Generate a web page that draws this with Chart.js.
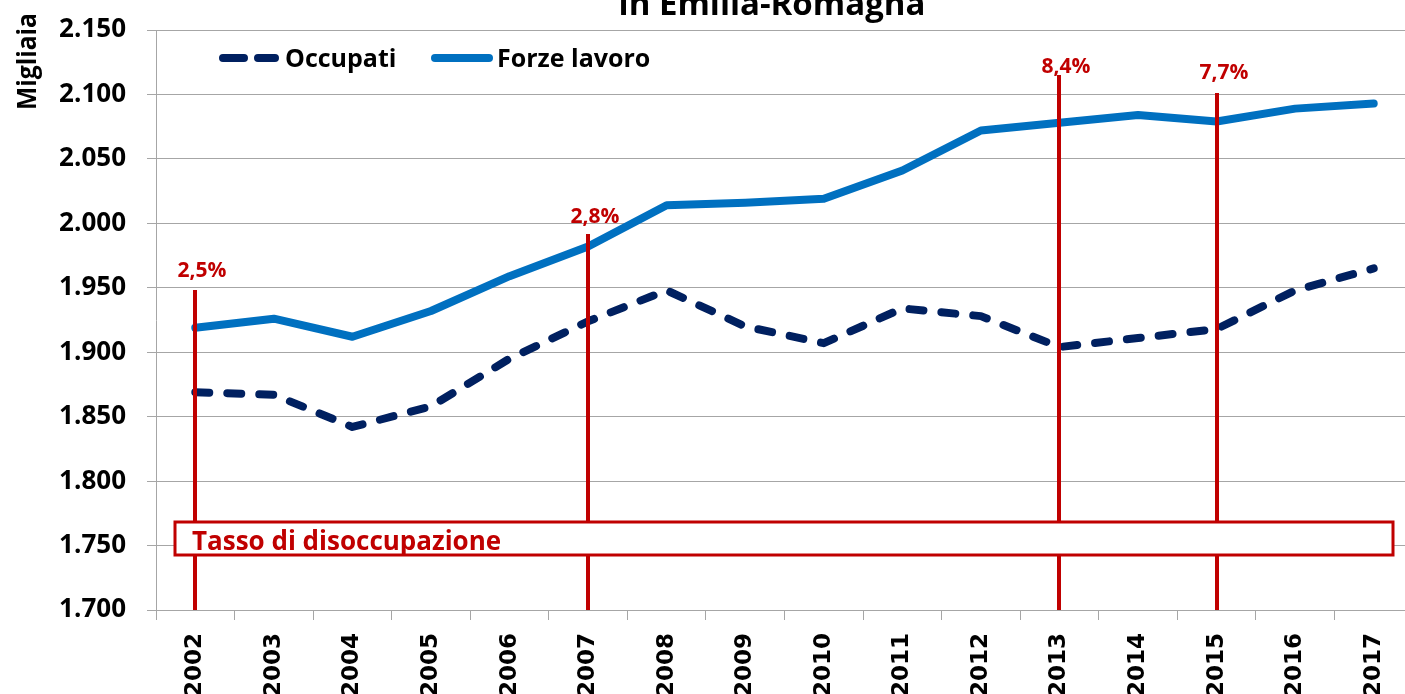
<!DOCTYPE html>
<html>
<head>
<meta charset="utf-8">
<script src="https://cdn.jsdelivr.net/npm/chart.js@4"></script>
<style>
  html, body { margin: 0; padding: 0; overflow: hidden; background: #fff; }
  canvas { display: block; }
</style>
</head>
<body>
<canvas id="grafico" width="1420" height="694"></canvas>
<script>
// dati (migliaia)
var anni = ['2002', '2003', '2004', '2005', '2006', '2007', '2008', '2009',
            '2010', '2011', '2012', '2013', '2014', '2015', '2016', '2017'];
var occupati = [1869, 1867, 1842, 1858, 1895, 1924, 1948, 1920,
                1907, 1934, 1928, 1904, 1911, 1918, 1948, 1965];
var forzeLavoro = [1919, 1926, 1912, 1932, 1959, 1982, 2014, 2016,
                   2019, 2041, 2072, 2078, 2084, 2079, 2089, 2093];
var yTicks = [1700, 1750, 1800, 1850, 1900, 1950, 2000, 2050, 2100, 2150];

// tasso di disoccupazione: anni evidenziati, etichette, cima della linea e livello dell'etichetta
var tassoAnni = ['2002', '2007', '2013', '2015'];
var tassoEtichette = ['2,5%', '2,8%', '8,4%', '7,7%'];
var tassoCima = [1948, 1992, 2115, 2101];
var tassoLivello = [1958, 2000, 2117, 2112];

var ROSSO = '#C00000';

function formatta(v) {
  var s = String(v);
  return s.length > 3 ? s.slice(0, s.length - 3) + '.' + s.slice(-3) : s;
}

// testo compresso in larghezza
function testoStretto(ctx, testo, x, y, larghezza) {
  var w = ctx.measureText(testo).width;
  var k = Math.min(1, larghezza / w);
  ctx.save();
  ctx.translate(x, y);
  ctx.scale(k, 1);
  ctx.fillText(testo, 0, 0);
  ctx.restore();
}

var decorazioni = {
  id: 'decorazioni',
  afterDatasetsDraw: function (chart) {
    var ctx = chart.ctx, x = chart.scales.x, y = chart.scales.y, area = chart.chartArea;
    ctx.save();

    // linee verticali del tasso
    ctx.strokeStyle = ROSSO;
    ctx.lineWidth = 4;
    ctx.fillStyle = ROSSO;
    ctx.font = 'bold 21px "Open Sans", sans-serif';
    ctx.textAlign = 'center';
    ctx.textBaseline = 'alphabetic';
    tassoAnni.forEach(function (anno, i) {
      var px = Math.round(x.getPixelForValue(anni.indexOf(anno)));
      var top = Math.round(y.getPixelForValue(tassoCima[i]));
      ctx.beginPath();
      ctx.moveTo(px, top);
      ctx.lineTo(px, area.bottom);
      ctx.stroke();
      ctx.fillText(tassoEtichette[i], px + 7, y.getPixelForValue(tassoLivello[i]));
    });

    // riquadro "Tasso di disoccupazione"
    var bx = area.left + 19, by = 522, bw = 1393 - bx, bh = 33;
    ctx.fillStyle = '#fff';
    ctx.fillRect(bx, by, bw, bh);
    ctx.strokeStyle = ROSSO;
    ctx.lineWidth = 3;
    ctx.strokeRect(bx, by, bw, bh);
    ctx.fillStyle = ROSSO;
    ctx.font = 'bold 26px "Open Sans", sans-serif';
    ctx.textAlign = 'left';
    ctx.fillText('Tasso di disoccupazione', bx + 17, by + 28);

    // legenda
    ctx.lineCap = 'round';
    ctx.lineWidth = 8;
    ctx.strokeStyle = '#002060';
    ctx.setLineDash([21, 14]);
    ctx.beginPath();
    ctx.moveTo(223, 58);
    ctx.lineTo(275, 58);
    ctx.stroke();
    ctx.setLineDash([]);
    ctx.strokeStyle = '#0070C0';
    ctx.beginPath();
    ctx.moveTo(435, 58);
    ctx.lineTo(489, 58);
    ctx.stroke();
    ctx.fillStyle = '#000';
    ctx.font = 'bold 25px "Open Sans", sans-serif';
    ctx.fillText('Occupati', 285, 67);
    ctx.fillText('Forze lavoro', 497, 67);

    ctx.restore();
  },
  afterDraw: function (chart) {
    var ctx = chart.ctx;
    ctx.save();
    ctx.fillStyle = '#000';
    ctx.font = 'bold 33px "Open Sans", sans-serif';
    ctx.textAlign = 'center';
    ctx.textBaseline = 'alphabetic';
    ctx.fillText('in Emilia-Romagna', 772, 15);

    ctx.translate(36, 110);
    ctx.rotate(-Math.PI / 2);
    ctx.font = 'bold 27px "Open Sans", sans-serif';
    ctx.textAlign = 'left';
    testoStretto(ctx, 'Migliaia', 0, 0, 97);
    ctx.restore();
  }
};

var ctx = document.getElementById('grafico');
new Chart(ctx, {
  type: 'line',
  data: {
    labels: anni,
    datasets: [{
      label: 'Occupati',
      data: occupati,
      borderColor: '#002060',
      borderWidth: 8,
      borderDash: [14, 18],
      borderCapStyle: 'round',
      borderJoinStyle: 'round',
      pointRadius: 0,
      tension: 0
    }, {
      label: 'Forze lavoro',
      data: forzeLavoro,
      borderColor: '#0070C0',
      borderWidth: 8,
      borderCapStyle: 'round',
      borderJoinStyle: 'round',
      pointRadius: 0,
      tension: 0
    }]
  },
  options: {
    responsive: false,
    animation: false,
    devicePixelRatio: 1,
    layout: { padding: { top: 30, right: 7, left: 0, bottom: 0 } },
    plugins: {
      legend: { display: false },
      title: { display: false },
      tooltip: { enabled: false }
    },
    scales: {
      x: {
        offset: true,
        grid: {
          offset: true,
          drawOnChartArea: false,
          drawTicks: true,
          tickLength: 10,
          color: '#a6a6a6'
        },
        border: { color: '#a6a6a6', width: 1 },
        ticks: {
          autoSkip: false,
          maxRotation: 90,
          minRotation: 90,
          padding: 13,
          color: '#000',
          font: { family: '"DejaVu Sans"', weight: 'bold', size: 23 }
        },
        afterFit: function (scale) { scale.height = 84; }
      },
      y: {
        min: 1700,
        max: 2150,
        afterBuildTicks: function (scale) {
          scale.ticks = yTicks.map(function (v) { return { value: v }; });
        },
        grid: {
          color: '#a6a6a6',
          lineWidth: 1,
          tickLength: 9
        },
        border: { color: '#a6a6a6', width: 1 },
        ticks: {
          padding: 21,
          color: '#000',
          font: { family: '"Open Sans"', weight: 'bold', size: 26 },
          callback: function (v) { return formatta(v); }
        },
        afterFit: function (scale) {
          scale.width = 156;
          scale.paddingTop = 0;
          scale.paddingBottom = 0;
        }
      }
    }
  },
  plugins: [decorazioni]
});
</script>
</body>
</html>
